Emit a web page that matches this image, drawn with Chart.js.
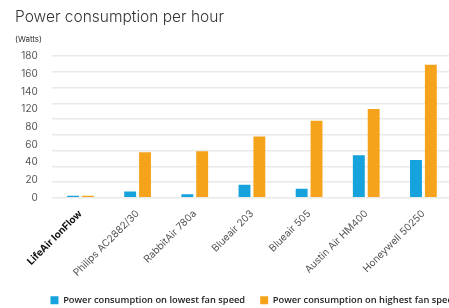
<!DOCTYPE html>
<html>
<head>
<meta charset="utf-8">
<script src="https://cdn.jsdelivr.net/npm/chart.js@4.4.1/dist/chart.umd.min.js"></script>
<style>
  html, body { margin: 0; padding: 0; background: #fff; overflow: hidden; }
  #wrap { position: relative; width: 500px; height: 308px; }
</style>
</head>
<body>
<div id="wrap"><canvas id="powerChart"></canvas></div>
<script>
const purifiers = ["LifeAir IonFlow", "Philips AC2882/30", "RabbitAir 780a", "Blueair 203", "Blueair 505", "Austin Air HM400", "Honeywell 50250"];
const lowestSpeed = [2.5, 8, 4.5, 16.5, 11.5, 54, 48];
const highestSpeed = [2.5, 58, 59, 78, 98, 113, 169];
const yTickLabels = ["0", "20", "40", "60", "80", "120", "140", "160", "180"];

const blue = "#15a2dd";
const orange = "#f6a31c";

const powerChart = new Chart(document.getElementById("powerChart"), {
  type: "bar",
  data: {
    labels: purifiers,
    datasets: [
      {
        label: "Power consumption on lowest fan speed",
        data: lowestSpeed,
        backgroundColor: blue,
        categoryPercentage: 0.52,
        barPercentage: 0.8,
      },
      {
        label: "Power consumption on highest fan speed",
        data: highestSpeed,
        backgroundColor: orange,
        categoryPercentage: 0.52,
        barPercentage: 0.8,
      }
    ]
  },
  options: {
    responsive: true,
    maintainAspectRatio: false,
    animation: false,
    layout: { padding: { left: 15, right: 6, top: 4, bottom: -7 } },
    plugins: {
      title: {
        display: true,
        text: "Power consumption per hour",
        align: "start",
        color: "#333",
        font: { family: "Inter", size: 15.5, weight: "300" },
        padding: { top: 4, bottom: 8 }
      },
      subtitle: {
        display: true,
        text: "(Watts)",
        align: "start",
        color: "#333",
        font: { family: "Inter", size: 8 },
        padding: { bottom: 12 }
      },
      legend: {
        position: "bottom",
        labels: {
          boxWidth: 8,
          boxHeight: 8,
          padding: 15,
          color: "#222",
          font: { family: "Open Sans", size: 9.3, weight: "600" }
        }
      },
      tooltip: { enabled: false }
    },
    scales: {
      x: {
        grid: { display: false },
        border: { display: false },
        ticks: {
          minRotation: 45,
          maxRotation: 45,
          padding: 2,
          color: (ctx) => ctx.index === 0 ? "#111" : "#555",
          font: (ctx) => ({ family: "Inter", size: 10, weight: ctx.index === 0 ? "bold" : "normal" })
        }
      },
      y: {
        position: "left",
        min: 0,
        max: 180,
        ticks: { stepSize: 20, display: false },
        grid: { color: "#e9e9e9", lineWidth: 1.5, drawTicks: false },
        border: { display: false }
      },
      yLabels: {
        type: "category",
        position: "left",
        reverse: true,
        labels: yTickLabels,
        offset: false,
        grid: { display: false },
        border: { display: false },
        ticks: {
          autoSkip: false,
          color: "#555",
          padding: 6,
          font: { family: "Inter", size: 10 }
        }
      },
      // empty right-hand axis, only keeps the plot area narrower than the legend
      spacer: {
        type: "linear",
        position: "right",
        grid: { display: false },
        border: { display: false },
        ticks: { display: false },
        afterFit: (scale) => { scale.width = 42; }
      }
    }
  }
});
</script>
</body>
</html>
